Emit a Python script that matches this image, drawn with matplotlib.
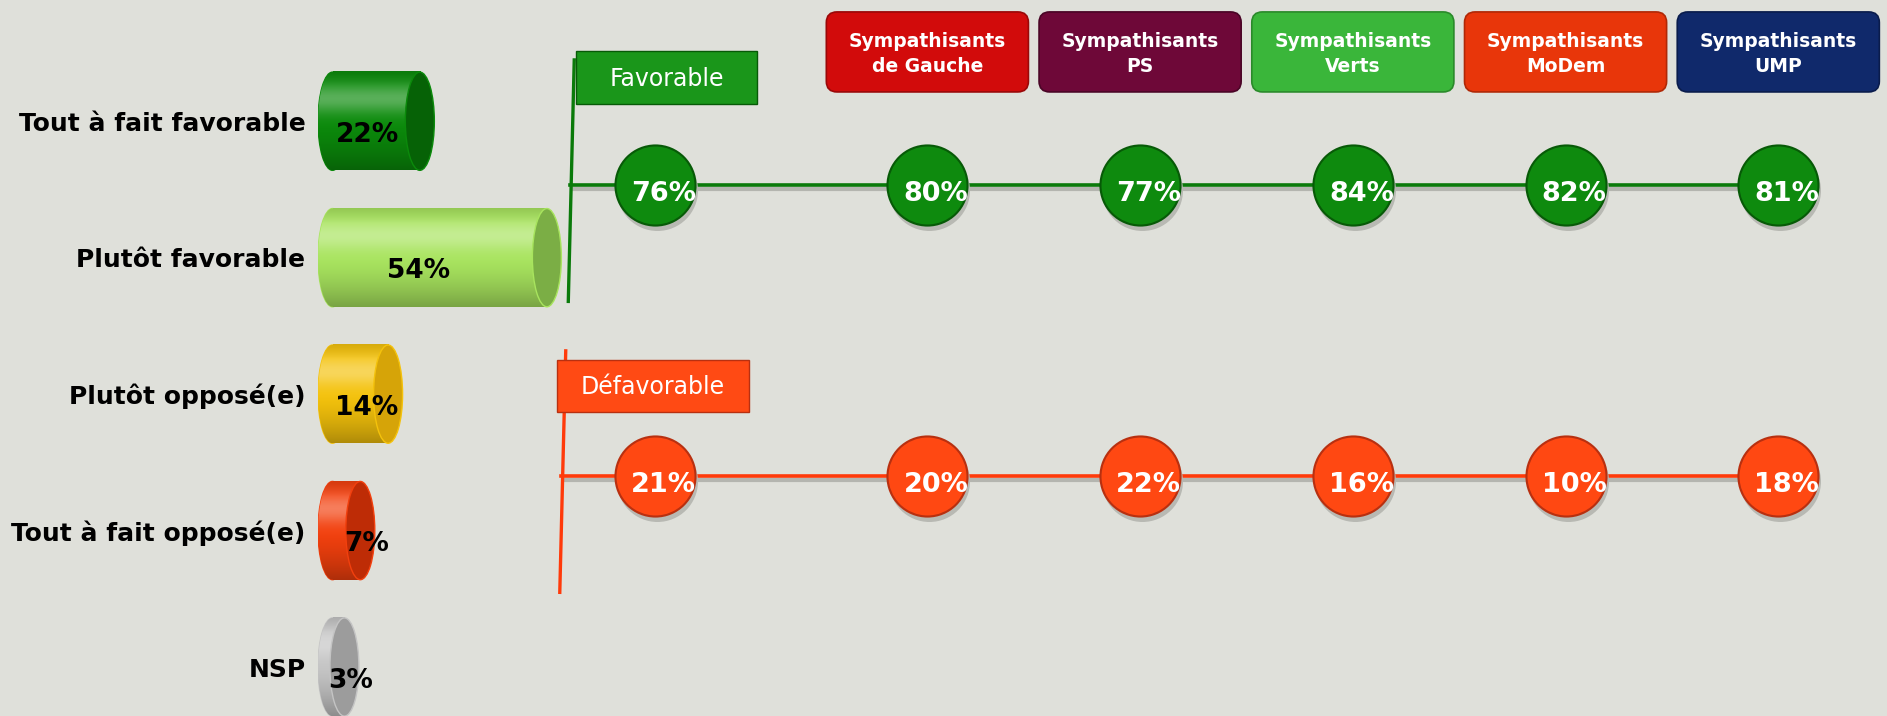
import numpy as np
import matplotlib
matplotlib.use("Agg")
import matplotlib.pyplot as plt
from matplotlib.patches import Ellipse, Rectangle, FancyBboxPatch
from matplotlib.colors import to_rgb
from matplotlib.transforms import offset_copy

plt.rcParams['font.family'] = ['DejaVu Sans']

# overall answers
answers = ["Tout à fait favorable", "Plutôt favorable", "Plutôt opposé(e)",
           "Tout à fait opposé(e)", "NSP"]
answer_pct = [22, 54, 14, 7, 3]

# favorable / defavorable by sympathy (first value = whole sample)
groups = ["Sympathisants\nde Gauche", "Sympathisants\nPS", "Sympathisants\nVerts",
          "Sympathisants\nMoDem", "Sympathisants\nUMP"]
favorable = [76, 80, 77, 84, 82, 81]
defavorable = [21, 20, 22, 16, 10, 18]

bg = '#DFE0DA'
body_cols = ['#0B8A0B', '#A8E45E', '#F4C20C', '#F2400E', '#C4C4C4']
end_cols = ['#066206', '#7BAE45', '#D6A408', '#BE2C06', '#9C9C9C']
group_cols = ['#D20B0B', '#6E0838', '#3AB63A', '#E8360A', '#10296B']
group_edges = ['#9A0808', '#4A0526', '#2A8A2A', '#B02806', '#0A1C4C']

W, H = 1887, 716
fig = plt.figure(figsize=(W / 100, H / 100), dpi=100, facecolor=bg)

# ---- left: cylinders for overall answers
axL = fig.add_axes([318 / W, 0, 282 / W, 663 / H])
axL.set_facecolor('none')
ppu = 3.97          # pixels per percent
cap = 29 / ppu      # width of the cylinder caps
bh = 0.72

# vertical shading profile of a cylinder (top -> bottom)
tt = np.linspace(-1, 1, 120)
light = 0.32 * np.exp(-((tt + 0.45) / 0.3) ** 2)
dark = 0.28 * np.clip(tt, 0, None) ** 1.5 + 0.12 * np.clip(-tt - 0.7, 0, None) / 0.3


def shaded(color):
    rgb = np.array(to_rgb(color))
    col = rgb[None, :] * (1 - light[:, None]) + light[:, None]
    col = col * (1 - dark[:, None])
    return np.repeat(col[:, None, :], 2, axis=1)


ys = np.arange(len(answers))
for y, v, c, ce in zip(ys, answer_pct, body_cols, end_cols):
    img = shaded(c)
    left_cap = Ellipse((0, y), cap, bh, color=c, zorder=1)
    axL.add_patch(left_cap)
    im = axL.imshow(img, extent=(-cap / 2, 0.01, y + bh / 2, y - bh / 2),
                    aspect='auto', interpolation='bilinear', zorder=1.5)
    im.set_clip_path(left_cap)
    axL.barh(y, v, height=bh, left=0, color=c, zorder=2)
    axL.imshow(img, extent=(0, v, y + bh / 2, y - bh / 2), aspect='auto',
               interpolation='bilinear', zorder=2.5)
    axL.add_patch(Ellipse((v, y), cap, bh, facecolor=ce, edgecolor=c, lw=1, zorder=4))
    axL.text(max(0.4 * v, min(v + 1.5, 8.5)), y + 0.1, f"{v}%", ha='center',
             va='center', fontsize=19, fontweight='bold', color='black', zorder=5)

axL.set_xlim(-14.5 / ppu, (282 - 14.5) / ppu)
axL.set_ylim(4.359, -0.5)
axL.set_yticks(ys)
axL.set_yticklabels(answers, fontsize=18, fontweight='bold')
axL.tick_params(axis='y', length=0, pad=9)
axL.set_xticks([])
for s in axL.spines.values():
    s.set_visible(False)

# ---- right: favorable / defavorable lines with bubbles
axR = fig.add_axes([540 / W, 0, 1347 / W, 1])
axR.set_facecolor('none')
axR.set_xlim(-0.541, 5.791)
axR.set_ylim(1.825, -0.636)
axR.axis('off')

xpos = np.concatenate([[0.0], np.arange(1, 6) + 0.28])
shadow = offset_copy(axR.transData, fig=fig, x=0, y=-4, units='dots')
bshadow = offset_copy(axR.transData, fig=fig, x=2, y=-5, units='dots')

# row, values, title, bubble, line, edge, flag colour, flag left/top/width, pole x
rows = [(0, favorable, 'Favorable', '#0E8A0E', '#0A7A0A', '#075A07', '#1A961A',
         -0.37, -0.46, 0.85, -0.38),
        (1, defavorable, 'Défavorable', '#FF4812', '#FF3A0A', '#B83010', '#FF4A14',
         -0.46, -0.40, 0.9, -0.42)]
for row, vals, title, bc, lc, ec, fc, fx, fy, fw, px in rows:
    axR.plot([px - 0.02, xpos[-1]], [row, row], color='#B4B5AF', lw=3, transform=shadow,
             zorder=1, solid_capstyle='butt')
    axR.plot([px - 0.02, xpos[-1]], [row, row], color=lc, lw=2.6, zorder=2)
    axR.plot([px, px - 0.028], [row - 0.43, row + 0.40], color=lc, lw=2.4, zorder=2)
    axR.add_patch(Rectangle((fx, row + fy), fw, 0.18, facecolor=fc,
                            edgecolor=ec, lw=1, zorder=3))
    axR.text(fx + fw / 2, row + fy + 0.095, title, ha='center', va='center',
             fontsize=17, color='white', zorder=4)
    axR.scatter(xpos, [row] * len(xpos), s=3400, color='#B8B9B3', transform=bshadow,
                zorder=3, linewidths=0)
    axR.scatter(xpos, [row] * len(xpos), s=3500, color=ec, linewidths=0, zorder=4)
    for k, sz in enumerate(np.linspace(3150, 900, 6)):
        axR.scatter(xpos, [row - 0.004 * k] * len(xpos), s=sz, color=bc,
                    alpha=1 if k == 0 else 0.25, linewidths=0, zorder=4)
    for x, v in zip(xpos, vals):
        axR.text(x + 0.04, row + 0.03, f"{v}%", ha='center', va='center',
                 fontsize=19.5, fontweight='bold', color='white', zorder=5)

# group headers
for x, g, c, ce in zip(xpos[1:], groups, group_cols, group_edges):
    axR.add_patch(FancyBboxPatch((x - 0.475, -0.595), 0.95, 0.275,
                                 boxstyle='round,pad=0,rounding_size=0.05',
                                 mutation_aspect=0.731, facecolor=c, edgecolor=ce,
                                 lw=1.2, zorder=3))
    axR.text(x, -0.45, g, ha='center', va='center', fontsize=13.5,
             fontweight='bold', color='white', linespacing=1.45, zorder=4)

fig.savefig('out.png', dpi=100, facecolor=bg)
